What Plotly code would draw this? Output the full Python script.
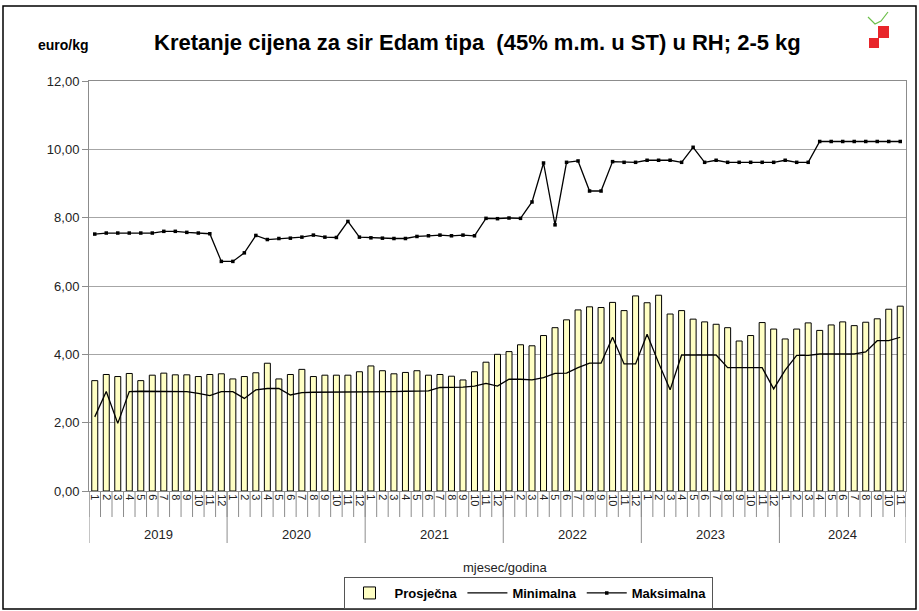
import plotly.graph_objects as go

years = ["2019", "2020", "2021", "2022", "2023", "2024"]
months_per_year = [12, 12, 12, 12, 12, 11]
month_labels = [str(m) for n in months_per_year for m in range(1, n + 1)]

prosjecna = [3.23, 3.41, 3.35, 3.44, 3.23, 3.39, 3.45, 3.40, 3.40, 3.35, 3.41, 3.43,
             3.28, 3.35, 3.46, 3.74, 3.28, 3.41, 3.56, 3.35, 3.39, 3.39, 3.39, 3.49,
             3.66, 3.52, 3.43, 3.47, 3.52, 3.39, 3.41, 3.36, 3.25, 3.49, 3.77, 4.00,
             4.08, 4.28, 4.25, 4.55, 4.78, 5.01, 5.30, 5.39, 5.37, 5.52, 5.28, 5.71,
             5.51, 5.73, 5.18, 5.28, 5.03, 4.95, 4.88, 4.78, 4.39, 4.55, 4.93, 4.74,
             4.45, 4.74, 4.92, 4.70, 4.86, 4.95, 4.84, 4.94, 5.04, 5.32, 5.41]

minimalna = [2.17, 2.91, 1.98, 2.91, 2.92, 2.92, 2.92, 2.92, 2.91, 2.86, 2.79, 2.91,
             2.91, 2.71, 2.96, 3.00, 3.00, 2.81, 2.88, 2.89, 2.89, 2.90, 2.90, 2.91,
             2.91, 2.91, 2.91, 2.92, 2.92, 2.93, 3.03, 3.03, 3.04, 3.07, 3.15, 3.07,
             3.27, 3.27, 3.25, 3.32, 3.44, 3.45, 3.61, 3.74, 3.74, 4.50, 3.72, 3.72,
             4.59, 3.75, 2.96, 3.98, 3.98, 3.98, 3.98, 3.61, 3.61, 3.61, 3.61, 2.99,
             3.54, 3.97, 3.97, 4.01, 4.01, 4.01, 4.01, 4.07, 4.40, 4.40, 4.50]

maksimalna = [7.52, 7.55, 7.55, 7.55, 7.55, 7.55, 7.60, 7.60, 7.57, 7.55, 7.53, 6.72,
              6.72, 6.97, 7.48, 7.36, 7.39, 7.40, 7.43, 7.49, 7.43, 7.42, 7.89, 7.43,
              7.41, 7.40, 7.39, 7.39, 7.45, 7.47, 7.49, 7.47, 7.49, 7.47, 7.98, 7.97,
              7.99, 7.98, 8.46, 9.60, 7.79, 9.62, 9.66, 8.78, 8.78, 9.64, 9.62, 9.62,
              9.68, 9.68, 9.68, 9.62, 10.06, 9.62, 9.68, 9.62, 9.62, 9.62, 9.62, 9.62,
              9.68, 9.62, 9.62, 10.23, 10.23, 10.23, 10.23, 10.23, 10.23, 10.23, 10.23]

x = list(range(len(month_labels)))
FONT = "Liberation Sans, Arial, sans-serif"
NARROW = "Liberation Sans Narrow, Arial Narrow, Liberation Sans, sans-serif"
GRAY = "#8c8c8c"

fig = go.Figure()
fig.add_trace(go.Bar(x=x, y=prosjecna, name="Prosječna", width=0.52,
                     marker=dict(color="#ffffc4", line=dict(color="black", width=1))))
fig.add_trace(go.Scatter(x=x, y=minimalna, name="Minimalna", mode="lines",
                         line=dict(color="black", width=1.3)))
fig.add_trace(go.Scatter(x=x, y=maksimalna, name="Maksimalna", mode="lines+markers",
                         line=dict(color="black", width=1.3),
                         marker=dict(symbol="square", size=3.5, color="black")))

PW, PH = 817, 410
def px(v):
    return (v - 89) / PW
def py(v):
    return (491 - v) / PH

shapes = []
n = len(x)
for i in range(n + 1):
    shapes.append(dict(type="line", xref="x", yref="paper", x0=i - 0.5, x1=i - 0.5,
                       y0=0, y1=py(517), line=dict(color=GRAY, width=1)))
annotations = []
start = 0
for yr, cnt in zip(years, months_per_year):
    shapes.append(dict(type="line", xref="x", yref="paper", x0=start - 0.5, x1=start - 0.5,
                       y0=0, y1=py(543), line=dict(color=GRAY, width=1)))
    annotations.append(dict(x=start - 0.5 + cnt / 2, y=py(534), xref="x", yref="paper",
                            text=yr, showarrow=False, font=dict(size=13, color="#222"),
                            xanchor="center", yanchor="middle"))
    start += cnt
shapes.append(dict(type="line", xref="x", yref="paper", x0=start - 0.5, x1=start - 0.5,
                   y0=0, y1=py(543), line=dict(color=GRAY, width=1)))
# outer frame
shapes.append(dict(type="rect", xref="paper", yref="paper",
                   x0=px(3), x1=px(916), y0=py(609), y1=py(6),
                   line=dict(color="black", width=1.5)))
# small logo approximation
shapes.append(dict(type="rect", xref="paper", yref="paper",
                   x0=px(878), x1=px(889), y0=py(38), y1=py(26),
                   fillcolor="#e8262b", line=dict(width=0)))
shapes.append(dict(type="rect", xref="paper", yref="paper",
                   x0=px(869), x1=px(879), y0=py(48), y1=py(38),
                   fillcolor="#e8262b", line=dict(width=0)))
shapes.append(dict(type="path", xref="paper", yref="paper",
                   path="M %f %f L %f %f L %f %f L %f %f" % (
                       px(868), py(17), px(875), py(24), px(881), py(21), px(888), py(12)),
                   line=dict(color="#6cbf4a", width=1.2)))

annotations += [
    dict(x=px(477), y=py(43), xref="paper", yref="paper",
         text="<b>Kretanje cijena za sir Edam tipa  (45% m.m. u ST) u RH; 2-5 kg</b>",
         showarrow=False, font=dict(size=22, color="black", family=NARROW),
         xanchor="center", yanchor="middle"),
    dict(x=px(63), y=py(45), xref="paper", yref="paper",
         text="<b>euro/kg</b>", showarrow=False,
         font=dict(size=14, color="black", family=NARROW),
         xanchor="center", yanchor="middle"),
    dict(x=px(505), y=py(567), xref="paper", yref="paper",
         text="mjesec/godina", showarrow=False, font=dict(size=13, color="#222"),
         xanchor="center", yanchor="middle"),
]

fig.update_layout(
    width=919, height=611,
    margin=dict(l=89, r=13, t=81, b=120, autoexpand=False),
    paper_bgcolor="white", plot_bgcolor="white",
    separators=", ",
    font=dict(family=FONT, size=12, color="#222"),
    bargap=0.5,
    showlegend=True,
    legend=dict(orientation="h", x=px(528), y=py(577),
                xanchor="center", yanchor="top", bordercolor="#555", borderwidth=1,
                font=dict(size=13, color="black", family=FONT), itemwidth=40,
                tracegroupgap=0),
    xaxis=dict(range=[-0.5, n - 0.5], tickmode="array", tickvals=x, ticktext=month_labels,
               tickangle=90, ticks="", showgrid=False, showline=True, linecolor=GRAY,
               mirror=True, tickfont=dict(size=11, color="#222"), zeroline=False,
               automargin=False),
    yaxis=dict(range=[0, 12], dtick=2, tickformat=".2f", showgrid=True, gridcolor="#a6a6a6",
               showline=True, linecolor=GRAY, mirror=True, ticks="outside", ticklen=6,
               tickcolor=GRAY, tickfont=dict(size=13, color="#222"), zeroline=False,
               automargin=False),
    shapes=shapes,
    annotations=annotations,
)
for tr in fig.data:
    tr.name = "<b>" + tr.name + "</b>"

fig.write_html("out.html", config={"displayModeBar": False},
               post_script="document.body.style.margin='0';document.body.style.padding='0';")
